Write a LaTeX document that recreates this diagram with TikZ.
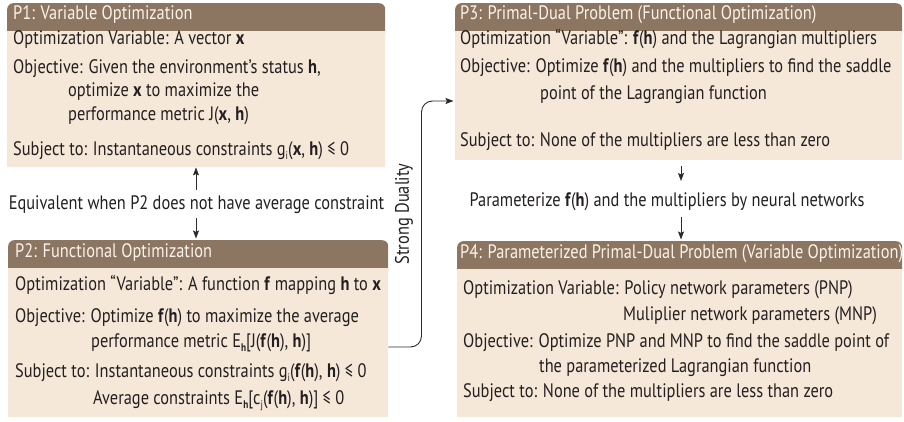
\documentclass[tikz,border=0pt]{standalone}
\usepackage{fontspec}
\setmainfont{PT Sans}[FakeStretch=0.84]
\usetikzlibrary{arrows.meta,calc}
\definecolor{hdr}{HTML}{8C7661}
\definecolor{bdy}{HTML}{F6E8D8}
\definecolor{txt}{HTML}{231F20}
\definecolor{hdrtxt}{HTML}{FBF3EA}
\definecolor{lnk}{HTML}{2B2B2B}
\newcommand{\lowsub}[1]{\raisebox{-0.45ex}{\fontsize{11}{11}\selectfont #1}}
\newcommand{\bfv}[1]{\textbf{#1}}
\tikzset{
  base/.style={font=\fontsize{19.5}{22}\selectfont, inner sep=0pt, text=txt},
  line/.style={base, anchor=mid west},
  htext/.style={base, anchor=mid west, text=hdrtxt},
  hdrbg/.style={fill=hdr, rounded corners=6pt, draw=none, anchor=north west, inner sep=0pt},
  bodybox/.style={fill=bdy, draw=none, anchor=north west, inner sep=0pt},
  arr/.style={draw=lnk, line width=0.9pt, -{Stealth[length=8pt,width=6pt,inset=1.5pt]}},
}
\begin{document}
\begin{tikzpicture}[x=1pt,y=-1pt]
\useasboundingbox (0,0) rectangle (904,422);

% ---------- P1 ----------
\node[hdrbg, minimum width=378, minimum height=36] (p1hbg) at (7,3) {};
\node[bodybox, minimum width=378, minimum height=136] (p1box) at (7,31) {};
\node[htext] (p1t) at (13,17) {P1: Variable Optimization};
\node[line] (p1l1) at (13,42) {Optimization Variable: A vector \bfv{x}};
\node[line] (p1l2) at (13,71) {Objective: Given the environment’s status \bfv{h},};
\node[line] (p1l3) at (68,94) {optimize \bfv{x} to maximize the};
\node[line] (p1l4) at (68,118) {performance metric J(\bfv{x}, \bfv{h})};
\node[line] (p1l5) at (13,153) {Subject to: Instantaneous constraints g\lowsub{i}(\bfv{x}, \bfv{h}) ≤ 0};

% ---------- P2 ----------
\node[hdrbg, minimum width=380, minimum height=36] (p2hbg) at (8,240) {};
\node[bodybox, minimum width=380, minimum height=149] (p2box) at (8,268) {};
\node[htext] (p2t) at (15,255) {P2: Functional Optimization};
\node[line] (p2l1) at (15,288) {Optimization “Variable”: A function \bfv{f} mapping \bfv{h} to \bfv{x}};
\node[line] (p2l2) at (15,320) {Objective: Optimize \bfv{f}(\bfv{h}) to maximize the average};
\node[line] (p2l3) at (91,345) {performance metric E\lowsub{\bfv{h}}[J(\bfv{f}(\bfv{h}), \bfv{h})]};
\node[line] (p2l4) at (15,375) {Subject to: Instantaneous constraints g\lowsub{i}(\bfv{f}(\bfv{h}), \bfv{h}) ≤ 0};
\node[line] (p2l5) at (93,402) {Average constraints E\lowsub{\bfv{h}}[c\lowsub{j}(\bfv{f}(\bfv{h}), \bfv{h})] ≤ 0};

% ---------- P3 ----------
\node[hdrbg, minimum width=447, minimum height=36] (p3hbg) at (455,3) {};
\node[bodybox, minimum width=447, minimum height=129] (p3box) at (455,31) {};
\node[htext] (p3t) at (460,17) {P3: Primal-Dual Problem (Functional Optimization)};
\node[line] (p3l1) at (460,42) {Optimization “Variable”: \bfv{f}(\bfv{h}) and the Lagrangian multipliers};
\node[line] (p3l2) at (460,70) {Objective: Optimize \bfv{f}(\bfv{h}) and the multipliers to find the saddle};
\node[line] (p3l3) at (540,97) {point of the Lagrangian function};
\node[line] (p3l4) at (460,144) {Subject to: None of the multipliers are less than zero};

% ---------- P4 ----------
\node[hdrbg, minimum width=445, minimum height=36] (p4hbg) at (457,241) {};
\node[bodybox, minimum width=445, minimum height=148] (p4box) at (457,269) {};
\node[htext] (p4t) at (460,256) {P4: Parameterized Primal-Dual Problem (Variable Optimization)};
\node[line] (p4l1) at (463,292) {Optimization Variable: Policy network parameters (PNP)};
\node[line] (p4l2) at (623,318) {Muliplier network parameters (MNP)};
\node[line] (p4l3) at (463,345) {Objective: Optimize PNP and MNP to find the saddle point of};
\node[line] (p4l4) at (539,370) {the parameterized Lagrangian function};
\node[line] (p4l5) at (463,395) {Subject to: None of the multipliers are less than zero};

% ---------- labels between boxes ----------
\node[base] (eq) at (196.5,205) {Equivalent when P2 does not have average constraint};
\node[base] (par) at (667,202) {Parameterize \bfv{f}(\bfv{h}) and the multipliers by neural networks};
\node[base, rotate=90] (sd) at (404,214) {Strong Duality};

% ---------- arrows ----------
\coordinate (eqU) at (196,190);
\coordinate (eqD) at (196,218);
\draw[arr] (eqU) -- (eqU |- p1box.south);
\draw[arr, shorten >=1.5pt] (eqD) -- (eqD |- p2hbg.north);

\coordinate (prU) at (681,166);
\coordinate (prUe) at (681,181);
\coordinate (prD) at (681,217);
\draw[arr] (prU) -- (prUe);
\draw[arr, shorten >=1.5pt] (prD) -- (prD |- p4hbg.north);

\coordinate (sdA) at (421.5,347);
\coordinate (sdB) at (421.5,101);
\draw[arr, rounded corners=11pt, shorten >=1.5pt] (p2box.east |- sdA) -- (sdA) -- (sdB) -- (p3box.west |- sdB);
\end{tikzpicture}
\end{document}
